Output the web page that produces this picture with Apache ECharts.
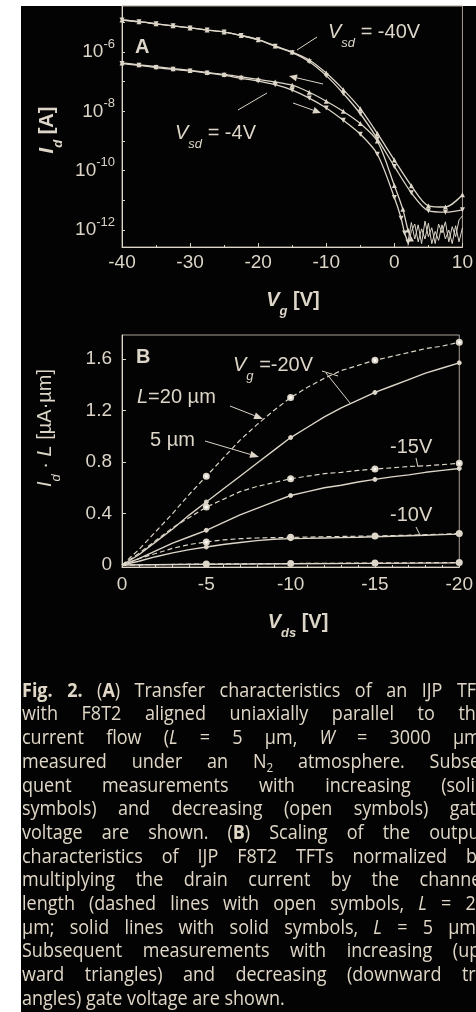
<!DOCTYPE html>
<html><head><meta charset="utf-8">
<script src="https://cdn.jsdelivr.net/npm/echarts@6/dist/echarts.min.js"></script>
<style>
html,body{margin:0;padding:0;background:#fff;width:476px;height:1012px;overflow:hidden}
#bg{position:absolute;left:21px;top:6px;width:455px;height:1006px;background:#030303}
#chart{position:absolute;left:0;top:0;width:476px;height:1012px}
</style></head><body><div id="bg"></div><div id="chart"></div>
<script>
// ---------------- Panel A: transfer characteristics ----------------
const vgFull = [-40,-37.5,-35,-32.5,-30,-27.5,-25,-22.5,-20,-17.5,-15,-12.5,-10,-7.5,-5,-2.5,0,2.5,5,7.5,10];
const idSd40Up   = [1.20e-5,1.05e-5,8.9e-6,7.6e-6,6.5e-6,5.5e-6,4.7e-6,3.6e-6,2.6e-6,1.6e-6,1.0e-6,5.4e-7,1.95e-7,5.4e-8,1.23e-8,1.8e-9,2.3e-10,3.1e-11,6.6e-12,6.0e-12,1.55e-11];
const idSd40Down = [1.20e-5,1.05e-5,8.9e-6,7.6e-6,6.5e-6,5.5e-6,4.7e-6,3.6e-6,2.6e-6,1.55e-6,9.5e-7,4.7e-7,1.6e-7,4.0e-8,8.3e-9,1.2e-9,1.4e-10,1.8e-11,4.5e-12,4.0e-12,4.8e-12];
const vgSd4Up   = [-40,-37.5,-35,-32.5,-30,-27.5,-25,-22.5,-20,-17.5,-15,-12.5,-10,-7.5,-5,-2.5,0,1.25,2.0,2.5];
const idSd4Up   = [4.3e-7,3.7e-7,3.2e-7,2.75e-7,2.4e-7,2.05e-7,1.75e-7,1.45e-7,1.2e-7,9.8e-8,7.6e-8,4.4e-8,2.2e-8,1.0e-8,3.9e-9,1.0e-9,3.2e-11,5e-12,1.0e-12,5e-13];
const vgSd4Down = [-40,-37.5,-35,-32.5,-30,-27.5,-25,-22.5,-20,-17.5,-15,-12.5,-10,-7.5,-5,-2.5,0,1.0,1.5,2.0];
const idSd4Down = [4.1e-7,3.55e-7,3.0e-7,2.6e-7,2.3e-7,1.95e-7,1.65e-7,1.3e-7,1.05e-7,7.9e-8,5.2e-8,2.8e-8,1.3e-8,5.0e-9,1.7e-9,3.6e-10,1.26e-11,2.5e-12,8e-13,4e-13];
const vgNoise  = [2.0,2.5,3.0,3.5,4.0,4.5,5.0,5.5,6.0,6.5,7.0,7.5,8.0,8.5,9.0,9.5,10];
const idNoise1 = [4e-13,1.8e-12,5e-13,1.5e-12,3.5e-13,2e-12,6e-13,1.2e-12,3.5e-13,1.6e-12,8e-13,1.9e-12,4e-13,1.3e-12,6e-13,2.2e-12,3e-12];
const idNoise2 = [3e-13,9e-13,1.6e-12,4e-13,1.1e-12,5e-13,1.7e-12,3.5e-13,9e-13,4.5e-13,1.5e-12,5e-13,1.0e-12,3.5e-13,1.4e-12,4e-13,1.2e-12];
const tickLabelsA = [1e-12,1e-10,1e-8,1e-6];
const minorTicksA = [1e-12,1e-11,1e-10,1e-9,1e-8,1e-7,1e-6,1e-5];

// ---------------- Panel B: scaled output characteristics ----------------
const vdsB = [0,-1,-2,-3,-4,-5,-6,-7,-8,-9,-10,-11,-12,-13,-14,-15,-16,-17,-18,-19,-20];
const idL20Vg20 = [0,0.12,0.26,0.40,0.55,0.69,0.83,0.97,1.09,1.20,1.30,1.38,1.45,1.51,1.55,1.59,1.62,1.65,1.68,1.70,1.73];
const idL5Vg20  = [0,0.08,0.18,0.28,0.39,0.49,0.59,0.69,0.79,0.89,0.99,1.07,1.15,1.22,1.28,1.34,1.39,1.44,1.49,1.53,1.57];
const idL20Vg15 = [0,0.09,0.19,0.29,0.37,0.45,0.51,0.57,0.61,0.64,0.67,0.69,0.71,0.72,0.735,0.745,0.755,0.765,0.77,0.78,0.79];
const idL5Vg15  = [0,0.05,0.11,0.17,0.22,0.27,0.33,0.39,0.44,0.49,0.54,0.57,0.60,0.62,0.645,0.665,0.685,0.70,0.72,0.735,0.75];
const idL20Vg10 = [0,0.05,0.09,0.13,0.16,0.18,0.195,0.205,0.21,0.213,0.215,0.217,0.22,0.222,0.224,0.226,0.229,0.232,0.236,0.24,0.245];
const idL5Vg10  = [0,0.03,0.065,0.095,0.12,0.14,0.16,0.175,0.19,0.20,0.205,0.207,0.21,0.213,0.216,0.22,0.224,0.228,0.232,0.236,0.24];
const vdsLow = [0,-5,-10,-15,-20];
const idL20Vg5 = [0,0.008,0.012,0.016,0.02];
const idL5Vg5  = [0,0.006,0.01,0.013,0.017];
const tickLabelsB = [0,0.4,0.8,1.2,1.6];

// ---------------- Caption ----------------
const captionLines = [
 "*Fig.* *2.* (*A*) Transfer characteristics of an IJP TFT",
 "with F8T2 aligned uniaxially parallel to the",
 "current flow (_L_ = 5 µm, _W_ = 3000 µm)",
 "measured under an N~2~ atmosphere. Subse-",
 "quent measurements with increasing (solid",
 "symbols) and decreasing (open symbols) gate",
 "voltage are shown. (*B*) Scaling of the output",
 "characteristics of IJP F8T2 TFTs normalized by",
 "multiplying the drain current by the channel",
 "length (dashed lines with open symbols, _L_ = 20",
 "µm; solid lines with solid symbols, _L_ = 5 µm).",
 "Subsequent measurements with increasing (up-",
 "ward triangles) and decreasing (downward tri-",
 "angles) gate voltage are shown."
];

// ---------------- rendering ----------------
const fg = '#dcd5c8';
const capColor = '#e0d7c7';
const FAM = "'Liberation Sans', Arial, sans-serif";
const CAP_FAM = "'Open Sans', sans-serif";
const mctx = document.createElement('canvas').getContext('2d');
function measure(t, size, bold, it, fam){ mctx.font=(it?'italic ':'')+(bold?'bold ':'')+size+'px '+fam; return mctx.measureText(t).width; }
function buildRun(parts, o){
  let x=0; const segs=[];
  for(const p of parts){
    const size = p.sub ? Math.round(o.size*o.subScale) : o.size;
    const w = measure(p.t, size, p.b, p.it, o.fam)*(o.sx||1);
    segs.push({p, size, x, w, dy: p.sub ? o.size*o.subDy : 0});
    x += w;
  }
  return {segs, width:x};
}
function segEls(run, ox, oy, o){
  return run.segs.map(s=>({type:'text', x: ox+s.x, y: oy+s.dy, scaleX: o.sx||1, silent:true, z:10,
    style:{text:s.p.t, fill:o.fill, fontSize:s.size, fontFamily:o.fam, fontWeight:s.p.b?'bold':'normal',
      fontStyle:s.p.it?'italic':'normal', align:'left', verticalAlign:'middle'}}));
}
function label(x, y, parts, o, anchor){ const r=buildRun(parts,o); const ox = anchor==='center'? x-r.width/2 : x; return segEls(r, ox, y, o); }
function vlabel(cx, cy, parts, o){ const r=buildRun(parts,o); return {type:'group', x:cx, y:cy, rotation:Math.PI/2, children:segEls(r,-r.width/2,0,o)}; }
function parseWord(w){
  const parts=[]; let cur='', b=false, it=false, sub=false;
  for(const ch of w){
    if('*_~'.includes(ch)){ if(cur) parts.push({t:cur,b,it,sub}); cur='';
      if(ch==='*') b=!b; else if(ch==='_') it=!it; else sub=!sub; }
    else cur+=ch;
  }
  if(cur) parts.push({t:cur,b,it,sub});
  return parts;
}
function seg(x1,y1,x2,y2){ return {type:'line', silent:true, z:10, shape:{x1,y1,x2,y2}, style:{stroke:fg, lineWidth:1}}; }
function arrow(x1,y1,x2,y2,len,half){
  const dx=x2-x1, dy=y2-y1, L=Math.hypot(dx,dy), ux=dx/L, uy=dy/L;
  const bx=x2-ux*len, by=y2-uy*len;
  return [seg(x1,y1,bx,by), {type:'polygon', silent:true, z:10, shape:{points:[[x2,y2],[bx-uy*half,by+ux*half],[bx+uy*half,by-ux*half]]}, style:{fill:fg}}];
}

const ann = {size:20, fam:FAM, fill:fg, subScale:0.65, subDy:0.55};
const graphics = [];
// panel A texts
graphics.push(...label(135,47,[{t:'A',b:true}],ann));
graphics.push(...label(328,32,[{t:'V',it:true},{t:'sd',it:true,sub:true},{t:' = -40V'}],ann));
graphics.push(...label(175,133,[{t:'V',it:true},{t:'sd',it:true,sub:true},{t:' = -4V'}],ann));
graphics.push(seg(317,37,297,50), seg(238,110,267,93));
graphics.push(...arrow(323,84,289,76,8,3.5));
graphics.push(...arrow(293,103,321,113,8,3.5));
graphics.push(...label(293,300,[{t:'V',it:true,b:true},{t:'g',it:true,b:true,sub:true},{t:' [V]',b:true}],ann,'center'));
graphics.push(vlabel(47,130,[{t:'I',it:true,b:true},{t:'d',it:true,b:true,sub:true},{t:' [A]',b:true}],ann));
// panel B texts
graphics.push(...label(136,357,[{t:'B',b:true}],ann));
graphics.push(...label(233,365,[{t:'V',it:true},{t:'g',it:true,sub:true},{t:' =-20V'}],ann));
graphics.push(...label(137,397,[{t:'L',it:true},{t:'=20 µm'}],ann));
graphics.push(...label(150,440,[{t:'5 µm'}],ann));
graphics.push(...label(390,447,[{t:'-15V'}],ann));
graphics.push(...label(390,515,[{t:'-10V'}],ann));
graphics.push(...arrow(230,406,263,419,9,3.5));
graphics.push(...arrow(205,441,259,457,9,3.5));
graphics.push(seg(322,371,338,376), seg(326,373,350,403));
graphics.push(seg(416,458,418,467), seg(416,527,420,535));
graphics.push(...label(298,622,[{t:'V',it:true,b:true},{t:'ds',it:true,b:true,sub:true},{t:' [V]',b:true}],ann,'center'));
graphics.push(vlabel(45,428,[{t:'I',it:true},{t:'d',it:true,sub:true},{t:' · '},{t:'L',it:true},{t:' [µA·µm]'}],ann));

// caption
const capOpt = {size:20, fam:CAP_FAM, fill:capColor, sx:0.9, subScale:0.65, subDy:0.3};
const CAP_L=22, CAP_R=486, CAP_Y0=691, CAP_LH=23.7;
captionLines.forEach((line,i)=>{
  const runs = line.split(' ').map(parseWord).map(w=>buildRun(w,capOpt));
  const total = runs.reduce((a,r)=>a+r.width,0);
  const last = i===captionLines.length-1;
  const gap = last ? measure(' ',capOpt.size,false,false,CAP_FAM)*capOpt.sx : (CAP_R-CAP_L-total)/(runs.length-1);
  let x=CAP_L; const y=CAP_Y0+i*CAP_LH;
  runs.forEach(r=>{ graphics.push(...segEls(r,x,y,capOpt)); x+=r.width+gap; });
});

function pairs(xs, ys){ return xs.map((x,i)=>[x,ys[i]]); }
function lineA(xs, ys, down){
  return {type:'line', xAxisIndex:0, yAxisIndex:0, data:pairs(xs,ys), smooth:0.3,
    symbol:'triangle', symbolSize:5, symbolRotate: down?180:0,
    lineStyle:{color:fg,width:1.3}, itemStyle:{color:fg}};
}
function noiseA(xs, ys){
  return {type:'line', xAxisIndex:0, yAxisIndex:0, data:pairs(xs,ys), symbol:'none', lineStyle:{color:fg,width:1}};
}
function lineB(xs, ys, dashed){
  return {type:'line', xAxisIndex:1, yAxisIndex:1,
    data: xs.map((x,i)=>({value:[x,ys[i]], symbol:(x!==0 && x%5===0)?(dashed?'emptyCircle':'circle'):'none'})),
    symbolSize: dashed?5:4, showAllSymbol:true,
    lineStyle:{color:fg,width:dashed?1.2:1.4,type:dashed?[5,3]:'solid'}, itemStyle:{color:fg, borderColor:fg}};
}

const axisCommon = {axisLine:{onZero:false, lineStyle:{color:fg,width:1}}, splitLine:{show:false},
  axisTick:{inside:true,length:4,lineStyle:{color:fg}}};

const option = {
  backgroundColor:'transparent', animation:false,
  textStyle:{fontFamily:FAM},
  grid:[
    {left:122, top:6, width:345, height:241, show:true, borderColor:'#a8a196', borderWidth:1},
    {left:122, top:335, width:345, height:232, show:true, borderColor:'#a8a196', borderWidth:1}
  ],
  xAxis:[
    Object.assign({gridIndex:0, type:'value', min:-40, max:10, interval:10,
      minorTick:{show:true, splitNumber:2, length:2, lineStyle:{color:fg}},
      axisLabel:{color:fg, fontSize:19, fontFamily:FAM, margin:6}}, axisCommon),
    Object.assign({gridIndex:1, type:'value', min:-20, max:0, interval:5, inverse:true,
      minorTick:{show:true, splitNumber:5, length:2, lineStyle:{color:fg}},
      axisLabel:{color:fg, fontSize:19, fontFamily:FAM, margin:8}}, axisCommon)
  ],
  yAxis:[
    Object.assign({gridIndex:0, type:'log', logBase:10, min:2.69e-13, max:3.55e-5,
      axisLabel:{customValues:tickLabelsA, margin:7, color:fg,
        formatter:v=>'{b|10}{s|'+Math.round(Math.log10(v))+'}',
        rich:{b:{fontSize:19,fontFamily:FAM,color:fg}, s:{fontSize:13,fontFamily:FAM,color:fg,padding:[0,0,16,0]}}}}, axisCommon,
      {axisTick:{inside:true,length:3,customValues:minorTicksA,lineStyle:{color:fg}}}),
    Object.assign({gridIndex:1, type:'value', min:-0.015, max:1.786,
      axisLabel:{customValues:tickLabelsB, margin:10, color:fg, fontSize:19, fontFamily:FAM,
        formatter:v=> v===0?'0':v.toFixed(1)}}, axisCommon,
      {axisTick:{inside:true,length:4,customValues:tickLabelsB,lineStyle:{color:fg}}})
  ],
  series:[
    lineA(vgFull, idSd40Up, false),
    lineA(vgFull, idSd40Down, true),
    lineA(vgSd4Up, idSd4Up, false),
    lineA(vgSd4Down, idSd4Down, true),
    noiseA(vgNoise, idNoise1),
    noiseA(vgNoise, idNoise2),
    lineB(vdsB, idL20Vg20, true),
    lineB(vdsB, idL5Vg20, false),
    lineB(vdsB, idL20Vg15, true),
    lineB(vdsB, idL5Vg15, false),
    lineB(vdsB, idL20Vg10, true),
    lineB(vdsB, idL5Vg10, false),
    lineB(vdsLow, idL20Vg5, true),
    lineB(vdsLow, idL5Vg5, false)
  ],
  graphic: graphics
};
const chart = echarts.init(document.getElementById('chart'), null, {renderer:'canvas'});
chart.setOption(option);
</script></body></html>
